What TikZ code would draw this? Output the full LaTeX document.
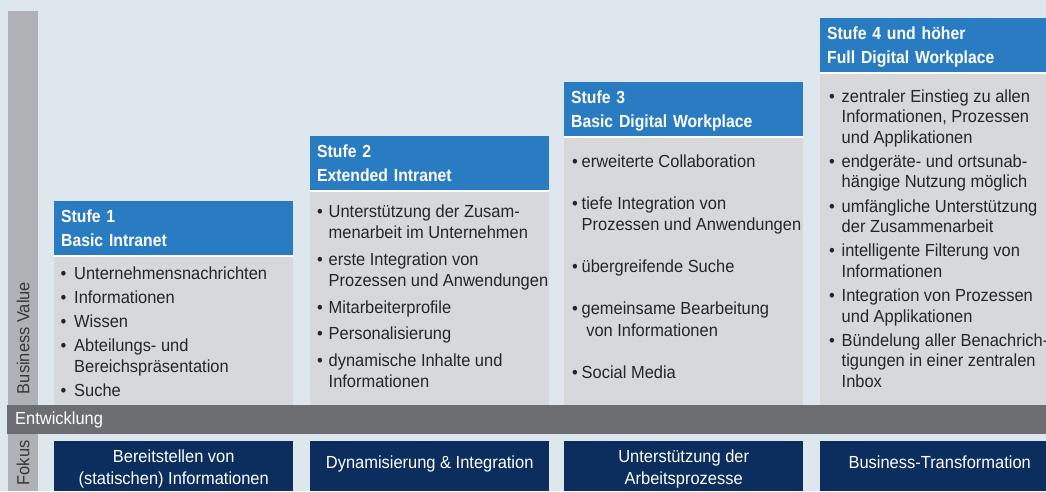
\documentclass[tikz,border=0pt]{standalone}
\usepackage{fontspec}
\setmainfont{Liberation Sans}[FakeStretch=0.94,BoldFeatures={FakeStretch=0.9}]
\usetikzlibrary{positioning}
\definecolor{Canvas}{HTML}{DEE7ED}
\definecolor{ValueGrey}{HTML}{B0B1B4}
\definecolor{DevGrey}{HTML}{6D6E71}
\definecolor{StepBlue}{HTML}{2A7CC2}
\definecolor{BodyGrey}{HTML}{D7D8DA}
\definecolor{FocusNavy}{HTML}{0B2E5E}
\definecolor{Text}{HTML}{262628}
\definecolor{LabelGrey}{HTML}{38383A}
\newlength{\bulwd}
\newcommand{\itm}{\makebox[\bulwd][l]{\textbullet}}
\newcommand{\cnt}{\hspace*{\bulwd}}
\newcommand{\hstrut}{\rule{0pt}{16.25pt}}
\newcommand{\dstrut}{\rule[-3.75pt]{0pt}{3.75pt}}

\begin{document}
\begin{tikzpicture}[x=1pt,y=-1pt,font=\fontsize{17.5}{21}\selectfont,every node/.style={text=Text,inner sep=0pt},stufehead/.style={anchor=north west,fill=StepBlue,text=white,font=\fontsize{17.5}{23.5}\selectfont\bfseries,minimum width=239pt,minimum height=54pt,text width=225pt,align=left},stufebody/.style={anchor=north west,fill=BodyGrey,minimum width=239pt},bullets/.style={anchor=north west,align=left,bulw/.code={\setlength{\bulwd}{##1}}},fokusbox/.style={anchor=north west,fill=FocusNavy,text=white,minimum width=239pt,minimum height=50pt,align=center,font=\fontsize{17.5}{22}\selectfont},sepline/.style={draw=white,line width=2pt}]
\useasboundingbox (0,0) rectangle (1046,491);
\fill[Canvas] (0,0) rectangle (1046,491);
\node[anchor=north west,fill=ValueGrey,minimum width=30pt,minimum height=480pt] (valuebar) at (8,11) {};
\node[rotate=90,text=LabelGrey] (bvlabel) at (23,338) {Business Value};
% the four steps
\node[stufebody,minimum height=150pt] (c1body) at (54,255) {};
\node[stufehead] (c1head) at (54,201) {\hstrut Stufe 1\\Basic Intranet\dstrut};
\node[stufebody,minimum height=215pt] (c2body) at (310,190) {};
\node[stufehead] (c2head) at (310,136) {\hstrut Stufe 2\\Extended Intranet\dstrut};
\node[stufebody,minimum height=269pt] (c3body) at (564,136) {};
\node[stufehead] (c3head) at (564,82) {\hstrut Stufe 3\\Basic Digital Workplace\dstrut};
\node[stufebody,minimum height=333pt] (c4body) at (820,72) {};
\node[stufehead] (c4head) at (820,18) {\hstrut Stufe 4 und höher\\Full Digital Workplace\dstrut};
\draw[sepline] ([yshift=-1pt]c1head.south west) -- ([yshift=-1pt]c1head.south east);
\draw[sepline] ([yshift=-1pt]c2head.south west) -- ([yshift=-1pt]c2head.south east);
\draw[sepline] ([yshift=-1pt]c3head.south west) -- ([yshift=-1pt]c3head.south east);
\draw[sepline] ([yshift=-1pt]c4head.south west) -- ([yshift=-1pt]c4head.south east);
\node[bullets,bulw=13.5pt,font=\fontsize{17.5}{21}\selectfont] (c1text) at (60.5,266) {\rule{0pt}{13pt}\itm Unternehmensnachrichten\\[3pt]\itm Informationen\\[3pt]\itm Wissen\\[3pt]\itm Abteilungs- und\\\cnt Bereichspräsentation\\[3pt]\itm Suche};
\node[bullets,bulw=11.5pt,font=\fontsize{17.5}{21.5}\selectfont] (c2text) at (317,204) {\rule{0pt}{13pt}\itm Unterstützung der Zusam-\\\cnt menarbeit im Unternehmen\\[5pt]\itm erste Integration von\\\cnt Prozessen und Anwendungen\\[5pt]\itm Mitarbeiterprofile\\[5pt]\itm Personalisierung\\[5pt]\itm dynamische Inhalte und\\\cnt Informationen};
\node[bullets,bulw=9.5pt,font=\fontsize{17.5}{21.5}\selectfont] (c3text) at (572,154) {\rule{0pt}{13pt}\itm erweiterte Collaboration\\[20.5pt]\itm tiefe Integration von\\\cnt Prozessen und Anwendungen\\[20.5pt]\itm übergreifende Suche\\[20.5pt]\itm gemeinsame Bearbeitung\\\cnt\ von Informationen\\[20.5pt]\itm Social Media};
\node[bullets,bulw=12.5pt,font=\fontsize{17.5}{20.5}\selectfont] (c4text) at (829,89) {\rule{0pt}{13pt}\itm zentraler Einstieg zu allen\\\cnt Informationen, Prozessen\\\cnt und Applikationen\\[3.7pt]\itm endgeräte- und ortsunab-\\\cnt hängige Nutzung möglich\\[3.7pt]\itm umfängliche Unterstützung\\\cnt der Zusammenarbeit\\[3.7pt]\itm intelligente Filterung von\\\cnt Informationen\\[3.7pt]\itm Integration von Prozessen\\\cnt und Applikationen\\[3.7pt]\itm Bündelung aller Benachrich-\\\cnt tigungen in einer zentralen\\\cnt Inbox};
% development bar and focus row
\node[anchor=north west,fill=DevGrey,text=white,minimum width=1039pt,minimum height=29pt,text width=1023pt,align=left] (entw) at (7,405) {Entwicklung};
\node[rotate=90,text=LabelGrey] (fokuslabel) at (23,463) {Fokus};
\node[fokusbox] (f1) at (54,441) {\rule{0pt}{19pt}Bereitstellen von\\(statischen) Informationen\rule[-4pt]{0pt}{4pt}};
\node[fokusbox] (f2) at (310,441) {\rule[-9pt]{0pt}{22pt}Dynamisierung \& Integration};
\node[fokusbox] (f3) at (564,441) {\rule{0pt}{19pt}Unterstützung der\\Arbeitsprozesse\rule[-4pt]{0pt}{4pt}};
\node[fokusbox] (f4) at (820,441) {\rule[-9pt]{0pt}{22pt}Business-Transformation};
\end{tikzpicture}
\end{document}
